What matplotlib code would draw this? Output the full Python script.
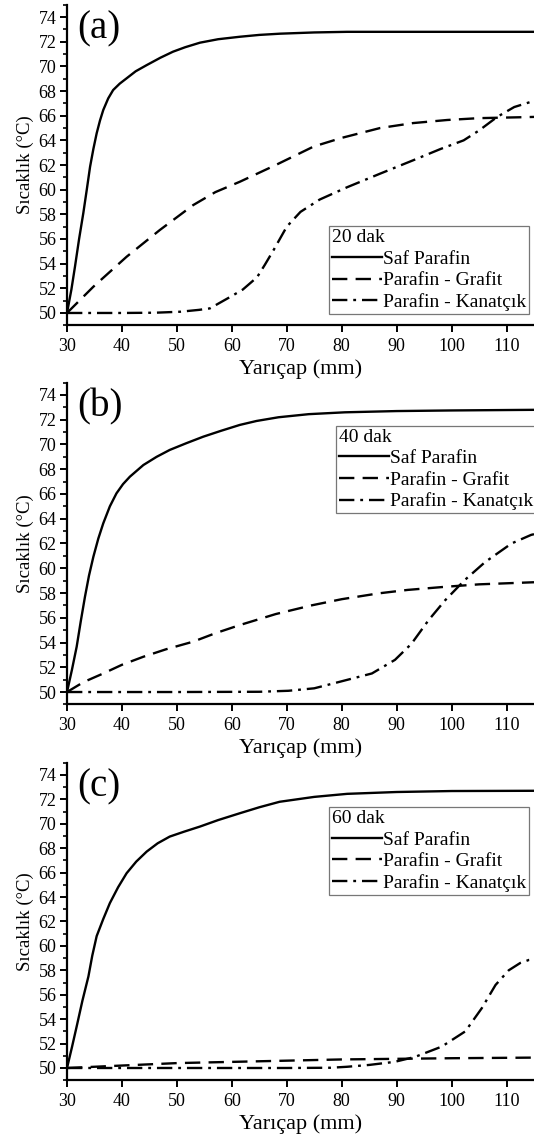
import matplotlib
matplotlib.use("Agg")
import matplotlib.pyplot as plt
from matplotlib.ticker import MultipleLocator

plt.rcParams['font.family'] = ['Liberation Serif', 'DejaVu Serif']

# ---------------- data ----------------
series_names = ["Saf Parafin", "Parafin - Grafit", "Parafin - Kanatçık"]
panel_labels = ["(a)", "(b)", "(c)"]
legend_titles = ["20 dak", "40 dak", "60 dak"]
x_label = "Yarıçap (mm)"
y_label = "Sıcaklık (°C)"
x_ticks = [30, 40, 50, 60, 70, 80, 90, 100, 110]
y_ticks = [50, 52, 54, 56, 58, 60, 62, 64, 66, 68, 70, 72, 74]

# Panel (a) - 20 dak
a_saf_x = [30, 30.8, 31.45, 32.2, 32.97, 33.6, 34.2, 34.8, 35.4, 36.0, 36.6, 37.5, 38.4, 39.6, 40.85, 42.5, 44.5, 47, 49.3, 51.5, 54.2, 57.5, 61.45, 65, 68.8, 75, 81, 90, 100, 115]
a_saf_y = [50, 51.9, 53.75, 56.0, 58.1, 60.0, 61.86, 63.3, 64.57, 65.6, 66.46, 67.4, 68.08, 68.6, 69.03, 69.6, 70.1, 70.7, 71.19, 71.55, 71.92, 72.2, 72.4, 72.55, 72.65, 72.75, 72.8, 72.8, 72.8, 72.8]
a_gra_x = [30, 34.8, 40.85, 46.9, 52.97, 57, 61.45, 68, 74.9, 80, 87, 93, 99.2, 105, 112.3, 115]
a_gra_y = [50, 52.13, 54.56, 56.73, 58.75, 59.8, 60.64, 62.0, 63.5, 64.2, 65.0, 65.4, 65.65, 65.8, 65.87, 65.9]
a_kan_x = [30, 40, 46, 50.6, 54, 56, 59.7, 62, 64.6, 66, 67.6, 70, 72.5, 76, 81, 87, 93.1, 98, 102.2, 105, 108.3, 111.4, 115]
a_kan_y = [50, 50, 50.02, 50.1, 50.25, 50.37, 51.3, 51.9, 52.9, 53.9, 55.1, 57.0, 58.2, 59.2, 60.2, 61.3, 62.4, 63.3, 64.0, 64.8, 65.9, 66.7, 67.2]

# Panel (b) - 40 dak
b_saf_x = [30, 30.9, 31.76, 32.5, 33.27, 34.0, 34.8, 35.7, 36.6, 37.8, 39.0, 40.2, 41.45, 43.9, 46.3, 48.7, 51.7, 54.8, 58, 61.45, 64.5, 68.5, 74, 80.6, 90, 100, 115]
b_saf_y = [50, 51.8, 53.66, 55.7, 57.7, 59.4, 60.93, 62.4, 63.63, 65.0, 66.05, 66.8, 67.4, 68.34, 69.0, 69.56, 70.1, 70.63, 71.1, 71.58, 71.9, 72.2, 72.45, 72.6, 72.7, 72.75, 72.8]
b_gra_x = [30, 33, 36.6, 40, 43.9, 48, 52.97, 57, 61.45, 68, 74.5, 80, 86.7, 92, 98.8, 105, 115]
b_gra_y = [50, 50.8, 51.5, 52.2, 52.85, 53.45, 54.07, 54.75, 55.41, 56.3, 57.0, 57.5, 57.97, 58.25, 58.5, 58.7, 58.87]
b_kan_x = [30, 50, 65, 70.3, 75, 79.4, 85.5, 89.7, 92.7, 95.8, 98.8, 102.4, 106.1, 110.9, 114.5, 115]
b_kan_y = [50, 50, 50.02, 50.1, 50.3, 50.8, 51.5, 52.6, 53.9, 55.8, 57.4, 59.05, 60.5, 62.0, 62.7, 62.75]

# Panel (c) - 60 dak
c_saf_x = [30, 30.9, 31.76, 32.8, 33.9, 34.6, 35.4, 36.6, 37.8, 39.3, 40.85, 42.6, 44.5, 46.5, 48.7, 51.3, 54.2, 57.5, 61.45, 65, 68.7, 75, 81, 90, 100, 115]
c_saf_y = [50, 51.7, 53.4, 55.5, 57.5, 59.2, 60.8, 62.2, 63.5, 64.8, 65.95, 66.9, 67.72, 68.4, 68.95, 69.35, 69.77, 70.3, 70.86, 71.35, 71.8, 72.2, 72.45, 72.6, 72.68, 72.7]
c_gra_x = [30, 40, 50, 60, 70, 80, 90, 100, 115]
c_gra_y = [50, 50.2, 50.4, 50.5, 50.6, 50.7, 50.75, 50.8, 50.85]
c_kan_x = [30, 70, 78, 81, 85, 89.6, 93.3, 98.2, 102.5, 105.5, 108, 110.4, 112.5, 114.1, 115]
c_kan_y = [50, 50, 50.02, 50.1, 50.25, 50.5, 50.9, 51.75, 53.0, 54.9, 56.8, 58.0, 58.6, 58.85, 58.9]

panels = [
    [(a_saf_x, a_saf_y), (a_gra_x, a_gra_y), (a_kan_x, a_kan_y)],
    [(b_saf_x, b_saf_y), (b_gra_x, b_gra_y), (b_kan_x, b_kan_y)],
    [(c_saf_x, c_saf_y), (c_gra_x, c_gra_y), (c_kan_x, c_kan_y)],
]

# ---------------- layout / style ----------------
W, H = 534, 1142
fig = plt.figure(figsize=(W / 100, H / 100), dpi=100)

ax_rects = [
    (67 / W, (H - 325.3) / H, 467 / W, 320.6 / H),
    (67 / W, (H - 704.4) / H, 467 / W, 321.8 / H),
    (67 / W, (H - 1080.2) / H, 467 / W, 317.5 / H),
]
legend_locs = [
    dict(loc="lower right", bbox_to_anchor=(0.99, 0.035)),
    dict(loc="upper right", bbox_to_anchor=(1.005, 0.866)),
    dict(loc="upper right", bbox_to_anchor=(0.99, 0.86)),
]
styles = [
    dict(linestyle="-"),
    dict(dashes=(6.5, 3.5)),
    dict(dashes=(6.5, 2.5, 1.2, 2.5)),
]

for i, (rect, data) in enumerate(zip(ax_rects, panels)):
    ax = fig.add_axes(rect)
    for (xs, ys), name, st in zip(data, series_names, styles):
        ax.plot(xs, ys, color="black", lw=1.7, label=name, **st)
    ax.set_xlim(30, 115)
    ax.set_ylim(49, 75)
    ax.set_xticks(x_ticks)
    ax.set_yticks(y_ticks)
    ax.yaxis.set_minor_locator(MultipleLocator(1))
    for s in ["top", "right"]:
        ax.spines[s].set_visible(False)
    for s in ["left", "bottom"]:
        ax.spines[s].set_linewidth(1.6)
    ax.tick_params(axis="both", which="major", direction="out", length=5, width=1.4,
                   labelsize=13, colors="black")
    ax.tick_params(axis="x", which="major", pad=4)
    ax.tick_params(axis="y", which="major", pad=2.5)
    ax.tick_params(axis="y", which="minor", direction="out", length=3, width=1.2)
    ax.set_xlabel(x_label, fontsize=16, labelpad=3)
    ax.set_ylabel(y_label, fontsize=13.5, labelpad=3)
    ax.text(0.022, 0.925, panel_labels[i], transform=ax.transAxes, fontsize=28,
            ha="left", va="center")
    leg = ax.legend(title=legend_titles[i], fontsize=14, title_fontsize=14,
                    alignment="left", frameon=True, fancybox=False,
                    edgecolor="#777777", framealpha=1, borderpad=0.15,
                    handlelength=2.6, handletextpad=0.05, labelspacing=0.2,
                    borderaxespad=0, **legend_locs[i])
    leg.get_frame().set_linewidth(0.9)

fig.savefig("out.png", dpi=100)
